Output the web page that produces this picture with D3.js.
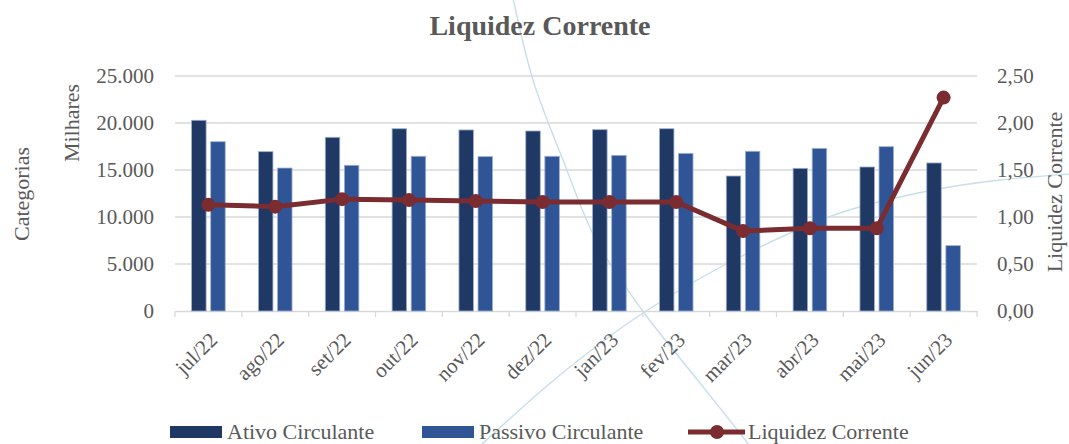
<!DOCTYPE html>
<html>
<head>
<meta charset="utf-8">
<script src="https://cdn.jsdelivr.net/npm/d3@7"></script>
<style>
  html, body { margin: 0; padding: 0; background: #ffffff; }
  svg { display: block; font-family: "Liberation Serif", "Times New Roman", serif; }
</style>
</head>
<body>
<svg id="chart" width="1069" height="444"></svg>
<script>
// ---- data ----
const categories = ["jul/22", "ago/22", "set/22", "out/22", "nov/22", "dez/22",
                    "jan/23", "fev/23", "mar/23", "abr/23", "mai/23", "jun/23"];
const ativoCirculante   = [20290, 16950, 18480, 19390, 19260, 19150, 19290, 19390, 14360, 15180, 15320, 15750];
const passivoCirculante = [18010, 15210, 15500, 16460, 16420, 16460, 16560, 16770, 16990, 17300, 17480, 6950];
const liquidezCorrente  = [1.13, 1.11, 1.19, 1.18, 1.17, 1.16, 1.16, 1.16, 0.85, 0.88, 0.88, 2.27];
const leftTicks  = [0, 5000, 10000, 15000, 20000, 25000];
const rightTicks = [0, 0.5, 1.0, 1.5, 2.0, 2.5];
const seriesNames = ["Ativo Circulante", "Passivo Circulante", "Liquidez Corrente"];

// ---- setup ----
const svg = d3.select("#chart");
const textColor = "#595959";
const gridColor = "#D9D9D9";
const colAtivo = "#203864";
const colPassivo = "#2F5597";
const colLine = "#7B2C31";

const loc = d3.formatLocale({decimal: ",", thousands: ".", grouping: [3], currency: ["R$", ""]});
const fmtLeft = loc.format(",");
const fmtRight = loc.format(".2f");

const x = d3.scaleBand().domain(categories).range([175, 977]).paddingInner(0).paddingOuter(0);
const xSub = d3.scaleBand().domain(["ativo", "passivo"]).range([16.6, 50.2]).paddingInner(0.24);
const y = d3.scaleLinear().domain([0, 25000]).range([311, 76]);
const y2 = d3.scaleLinear().domain([0, 2.5]).range([311, 76]);

// ---- decorative background arcs ----
const deco = svg.append("g").attr("fill", "none").attr("stroke", "#C5E0E8").attr("stroke-width", 1.4);
const decoLine = d3.line().curve(d3.curveCatmullRom);
deco.append("path").attr("d", decoLine([[513, -2], [533, 80], [563, 160], [596, 240], [642, 310], [700, 383], [750, 446]]));
deco.append("path").attr("d", decoLine([[480, 446], [560, 375], [643, 313], [740, 257], [840, 213], [933, 190], [1000, 180], [1071, 174]]));

// ---- gridlines ----
svg.append("g").selectAll("line").data(leftTicks.slice(1)).join("line")
  .attr("x1", x.range()[0]).attr("x2", x.range()[1])
  .attr("y1", d => y(d)).attr("y2", d => y(d))
  .attr("stroke", gridColor).attr("stroke-width", 1.3);

// ---- x axis ----
const xAxisG = svg.append("g").attr("transform", `translate(0,${y(0)})`)
  .call(d3.axisBottom(x).tickSize(0).tickFormat(""));
xAxisG.select(".domain").attr("stroke", gridColor).attr("stroke-width", 1.3);
const boundaries = categories.map(c => x(c)).concat([x.range()[1]]);
xAxisG.selectAll(".bnd").data(boundaries).join("line").attr("class", "bnd")
  .attr("x1", d => d).attr("x2", d => d).attr("y1", 0).attr("y2", 6)
  .attr("stroke", gridColor).attr("stroke-width", 1.3);

svg.append("g").selectAll("text").data(categories).join("text")
  .attr("transform", d => `translate(${x(d) + x.bandwidth() / 2 + 5},${y(0) + 25}) rotate(-45)`)
  .attr("text-anchor", "end").attr("dy", "0.35em")
  .attr("font-size", 21).attr("fill", textColor)
  .text(d => d);

// ---- left axis ----
const yAxisG = svg.append("g").attr("transform", `translate(${x.range()[0]},0)`)
  .call(d3.axisLeft(y).tickValues(leftTicks).tickFormat(fmtLeft).tickSize(0).tickPadding(21));
yAxisG.select(".domain").remove();
yAxisG.selectAll("text").attr("font-size", 21).attr("fill", textColor).attr("font-family", "Liberation Serif, serif");

// ---- right axis ----
const y2AxisG = svg.append("g").attr("transform", `translate(${x.range()[1]},0)`)
  .call(d3.axisRight(y2).tickValues(rightTicks).tickFormat(fmtRight).tickSize(0).tickPadding(20));
y2AxisG.select(".domain").remove();
y2AxisG.selectAll("text").attr("font-size", 21).attr("fill", textColor).attr("font-family", "Liberation Serif, serif");

// ---- bars ----
const barData = categories.map((c, i) => [
  {cat: c, key: "ativo", value: ativoCirculante[i], color: colAtivo},
  {cat: c, key: "passivo", value: passivoCirculante[i], color: colPassivo}
]).flat();
svg.append("g").selectAll("rect").data(barData).join("rect")
  .attr("x", d => x(d.cat) + xSub(d.key))
  .attr("width", xSub.bandwidth())
  .attr("y", d => y(d.value))
  .attr("height", d => y(0) - y(d.value))
  .attr("fill", d => d.color)
  .attr("stroke", "#9DB0D0").attr("stroke-width", 0.8);

// ---- line ----
const lineGen = d3.line()
  .x((d, i) => x(categories[i]) + x.bandwidth() / 2)
  .y(d => y2(d));
svg.append("path").datum(liquidezCorrente)
  .attr("d", lineGen).attr("fill", "none")
  .attr("stroke", colLine).attr("stroke-width", 5).attr("stroke-linejoin", "round");
svg.append("g").selectAll("circle").data(liquidezCorrente).join("circle")
  .attr("cx", (d, i) => x(categories[i]) + x.bandwidth() / 2)
  .attr("cy", d => y2(d))
  .attr("r", 7).attr("fill", colLine);

// ---- title ----
svg.append("text").attr("x", 540).attr("y", 35).attr("text-anchor", "middle")
  .attr("font-size", 28).attr("font-weight", "bold").attr("fill", textColor)
  .text("Liquidez Corrente");

// ---- axis titles ----
svg.append("text").attr("transform", "translate(29,194) rotate(-90)").attr("text-anchor", "middle")
  .attr("font-size", 22).attr("fill", textColor).text("Categorias");
svg.append("text").attr("transform", "translate(79,123) rotate(-90)").attr("text-anchor", "middle")
  .attr("font-size", 22).attr("fill", textColor).text("Milhares");
svg.append("text").attr("transform", "translate(1062,192) rotate(-90)").attr("text-anchor", "middle")
  .attr("font-size", 22).attr("fill", textColor).text("Liquidez Corrente");

// ---- legend ----
const leg = svg.append("g");
const legItems = [
  {name: seriesNames[0], type: "bar", color: colAtivo, x: 170},
  {name: seriesNames[1], type: "bar", color: colPassivo, x: 422},
  {name: seriesNames[2], type: "line", color: colLine, x: 688}
];
legItems.forEach(it => {
  if (it.type === "bar") {
    leg.append("rect").attr("x", it.x).attr("y", 426).attr("width", 52).attr("height", 12).attr("fill", it.color);
    leg.append("text").attr("x", it.x + 57).attr("y", 439).attr("font-size", 22).attr("fill", textColor).text(it.name);
  } else {
    leg.append("line").attr("x1", it.x).attr("x2", it.x + 57).attr("y1", 432).attr("y2", 432)
      .attr("stroke", it.color).attr("stroke-width", 5);
    leg.append("circle").attr("cx", it.x + 29).attr("cy", 432).attr("r", 7).attr("fill", it.color);
    leg.append("text").attr("x", it.x + 60).attr("y", 439).attr("font-size", 22).attr("fill", textColor).text(it.name);
  }
});
</script>
</body>
</html>
